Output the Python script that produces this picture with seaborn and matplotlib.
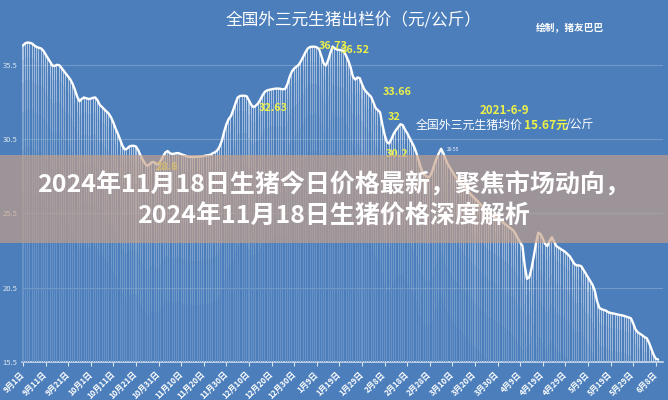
import matplotlib
matplotlib.use("Agg")
import matplotlib.pyplot as plt
import seaborn as sns
import numpy as np
import pandas as pd
from matplotlib.patches import Rectangle

# ---------------- data ----------------
prices = [
    36.8, 36.95, 37.0, 36.98, 36.93, 36.8, 36.7, 36.65, 36.6, 36.45,
    36.2, 35.95, 35.7, 35.45, 35.42, 35.5, 35.48, 35.3, 35.1, 34.9,
    34.7, 34.5, 34.2, 33.8, 33.35, 33.05, 33.2, 33.3, 33.25, 33.2,
    33.22, 33.28, 33.3, 33.1, 32.8, 32.65, 32.5, 32.35, 32.2, 31.95,
    31.6, 31.2, 30.85, 30.45, 30.05, 29.8, 29.85, 30.0, 30.05, 30.05,
    30.0, 29.75, 29.4, 29.1, 28.85, 28.7, 28.8, 28.95, 28.95, 28.82,
    28.8, 29.05, 29.35, 29.6, 29.7, 29.55, 29.5, 29.52, 29.56, 29.55,
    29.48, 29.43, 29.38, 29.32, 29.3, 29.3, 29.3, 29.31, 29.32, 29.34,
    29.36, 29.4, 29.42, 29.45, 29.55, 29.62, 29.75, 30.0, 30.4, 31.0,
    31.5, 31.85, 32.05, 32.45, 32.9, 33.3, 33.4, 33.42, 33.42, 33.38,
    33.1, 32.8, 32.65, 32.75, 32.9, 33.15, 33.45, 33.68, 33.78, 33.82,
    33.85, 33.88, 33.9, 33.9, 33.88, 33.85, 33.88, 34.2, 34.7, 35.05,
    35.25, 35.38, 35.5, 35.75, 36.05, 36.35, 36.6, 36.7, 36.72, 36.72,
    36.68, 36.55, 36.1, 35.6, 35.45, 35.8, 36.3, 36.73, 36.6, 36.52,
    36.5, 36.47, 36.42, 36.1, 35.75, 35.3, 34.7, 34.5, 34.65, 34.6,
    34.2, 33.85, 33.66, 33.5, 33.35, 33.0, 32.6, 32.45, 32.3, 31.5,
    30.8, 30.3, 30.2, 30.5, 30.85, 31.1, 31.3, 31.5, 31.45, 31.15,
    30.9, 30.6, 30.3, 30.0, 29.6, 29.1, 28.6, 28.2, 28.05, 27.95,
    27.97, 28.3, 28.8, 29.2, 29.55, 29.85, 29.55, 29.15, 28.8, 28.55,
    28.3, 28.05, 27.86, 27.7, 27.55, 27.4, 27.2, 27.0, 26.8, 26.65,
    26.5, 26.35, 26.18, 26.0, 25.85, 25.7, 25.55, 25.45, 25.35, 25.25,
    25.12, 25.05, 24.95, 24.82, 24.7, 24.58, 24.46, 24.35, 24.1, 23.8,
    23.55, 23.3, 22.0, 21.1, 21.2, 21.8, 22.6, 23.5, 24.2, 24.1,
    23.8, 23.45, 23.3, 23.65, 23.9, 23.6, 23.3, 23.2, 23.1, 23.0,
    22.9, 22.75, 22.6, 22.35, 22.1, 22.0, 22.0, 21.95, 21.7, 21.45,
    21.2, 20.95, 20.7, 20.3, 19.6, 19.15, 19.05, 19.0, 18.95, 18.85,
    18.8, 18.77, 18.74, 18.7, 18.67, 18.64, 18.6, 18.55, 18.5, 18.44,
    18.1, 17.7, 17.5, 17.4, 17.3, 17.18, 17.1, 16.8, 16.4, 16.0,
    15.72, 15.67,
]
days = list(range(len(prices)))  # day 0 = 2020-09-01

xtick_days = [0, 10, 20, 30, 40, 50, 60, 70, 80, 90, 100, 110, 120, 130, 140,
              150, 160, 170, 180, 190, 200, 210, 220, 230, 240, 250, 260, 270, 280]
xtick_labels = ["9月1日", "9月11日", "9月21日", "10月1日", "10月11日", "10月21日",
                "10月31日", "11月10日", "11月20日", "11月30日", "12月10日", "12月20日",
                "12月30日", "1月9日", "1月19日", "1月29日", "2月8日", "2月18日",
                "2月28日", "3月10日", "3月20日", "3月30日", "4月9日", "4月19日",
                "4月29日", "5月9日", "5月19日", "5月29日", "6月8日"]
ytick_values = [15.5, 20.5, 25.5, 30.5, 35.5]

point_labels = ["36.73", "36.52", "32.63", "33.66", "32", "30.2", "28.6"]
point_label_px = [(333, 46), (355, 50), (273, 108), (397, 92), (394, 117), (397, 154), (167, 167)]

title = "全国外三元生猪出栏价（元/公斤）"
credit = "绘制，猪友巴巴"
note_date = "2021-6-9"
note_a, note_b, note_c = "全国外三元生猪均价", "15.67元", "/公斤"
headline1 = "2024年11月18日生猪今日价格最新，聚焦市场动向，"
headline2 = "2024年11月18日生猪价格深度解析"

# ---------------- style ----------------
sns.set_theme(style="white")
CJK = ["Noto Sans CJK SC", "DejaVu Sans"]
plt.rcParams["font.family"] = CJK
BG = "#4B7EBB"
YEL = "#ECF04A"

W, H = 668, 400
fig = plt.figure(figsize=(W / 100, H / 100), dpi=100, facecolor=BG)

def px(x, y):
    return x / W, 1 - y / H

ppd = 2.26
x_left, x_right = -0.5, 283.2
left_px = 23 + x_left * ppd
right_px = 23 + x_right * ppd
ax = fig.add_axes([left_px / W, 38 / H, (right_px - left_px) / W, 362 / H])
ax.set_facecolor(BG)

df = pd.DataFrame({"day": days, "price": prices})

# bars (white, fading toward the bottom of each bar)
sns.barplot(data=df, x="day", y="price", color="white", alpha=0.55, width=0.45,
            edgecolor="none", linewidth=0, ax=ax, zorder=2)
for k, a in [(1.0, 0.18), (2.5, 0.2), (4.5, 0.2), (7.0, 0.22), (10.0, 0.25)]:
    dfk = pd.DataFrame({"day": days, "price": [p - k for p in prices]})
    sns.barplot(data=dfk, x="day", y="price", color=BG, alpha=a, width=0.45,
                edgecolor="none", linewidth=0, ax=ax, zorder=3, saturation=1)

sns.lineplot(x=days, y=prices, color="white", linewidth=1.7, ax=ax, zorder=5)

ax.set_xlim(x_left, x_right)
ax.set_ylim(15.5, 15.5 + 362 / 14.86)

ax.set_yticks(ytick_values)
ax.set_yticklabels([f"{v:.1f}" for v in ytick_values])
ax.tick_params(axis="y", length=0, pad=3, labelsize=5.5, labelcolor="#dfe6f0")
ax.yaxis.grid(True, color="white", alpha=0.22, linewidth=0.8)
ax.set_axisbelow(True)

ax.set_xticks(xtick_days)
ax.set_xticklabels(xtick_labels, rotation=45, ha="right", va="center",
                   rotation_mode="anchor", fontsize=5.8, fontweight="bold", color="white")
ax.tick_params(axis="x", length=3, width=0.8, color="#d8e4f2", pad=5, direction="out", bottom=True)
ax.set_xlabel("")
ax.set_ylabel("")
for s in ["top", "right", "left"]:
    ax.spines[s].set_visible(False)
ax.spines["bottom"].set_color("#d8e4f2")
ax.spines["bottom"].set_linewidth(1.1)

# texts on chart
fig.text(*px(354, 20), title, ha="center", va="center", color="white", fontsize=12)
fig.text(*px(570, 28), credit, ha="center", va="center", color="white", fontsize=7, fontweight="bold")
for lab, (lx, ly) in zip(point_labels, point_label_px):
    fig.text(*px(lx, ly), lab, ha="center", va="center", color=YEL, fontsize=7.8, fontweight="bold")
fig.text(*px(453, 149), "29.55", ha="center", va="center", color="white", fontsize=3.5)
fig.text(*px(504, 110), note_date, ha="center", va="center", color=YEL, fontsize=8.3, fontweight="bold")
fig.text(*px(416, 125), note_a, ha="left", va="center", color="white", fontsize=8.6)
fig.text(*px(524, 125), note_b, ha="left", va="center", color=YEL, fontsize=8.6, fontweight="bold")
fig.text(*px(566, 125), note_c, ha="left", va="center", color="white", fontsize=8.6)

# translucent band with headline
fig.add_artist(Rectangle(px(0, 243), 1, 88 / H, transform=fig.transFigure,
                         facecolor=(200 / 255, 161 / 255, 135 / 255), alpha=0.65,
                         edgecolor="none", zorder=10))
fig.text(*px(334, 185), headline1, ha="center", va="center", color="white",
         fontsize=18, fontweight="bold", zorder=11)
fig.text(*px(334, 217), headline2, ha="center", va="center", color="white",
         fontsize=18, fontweight="bold", zorder=11)

fig.savefig("out.png", dpi=100, facecolor=BG)
